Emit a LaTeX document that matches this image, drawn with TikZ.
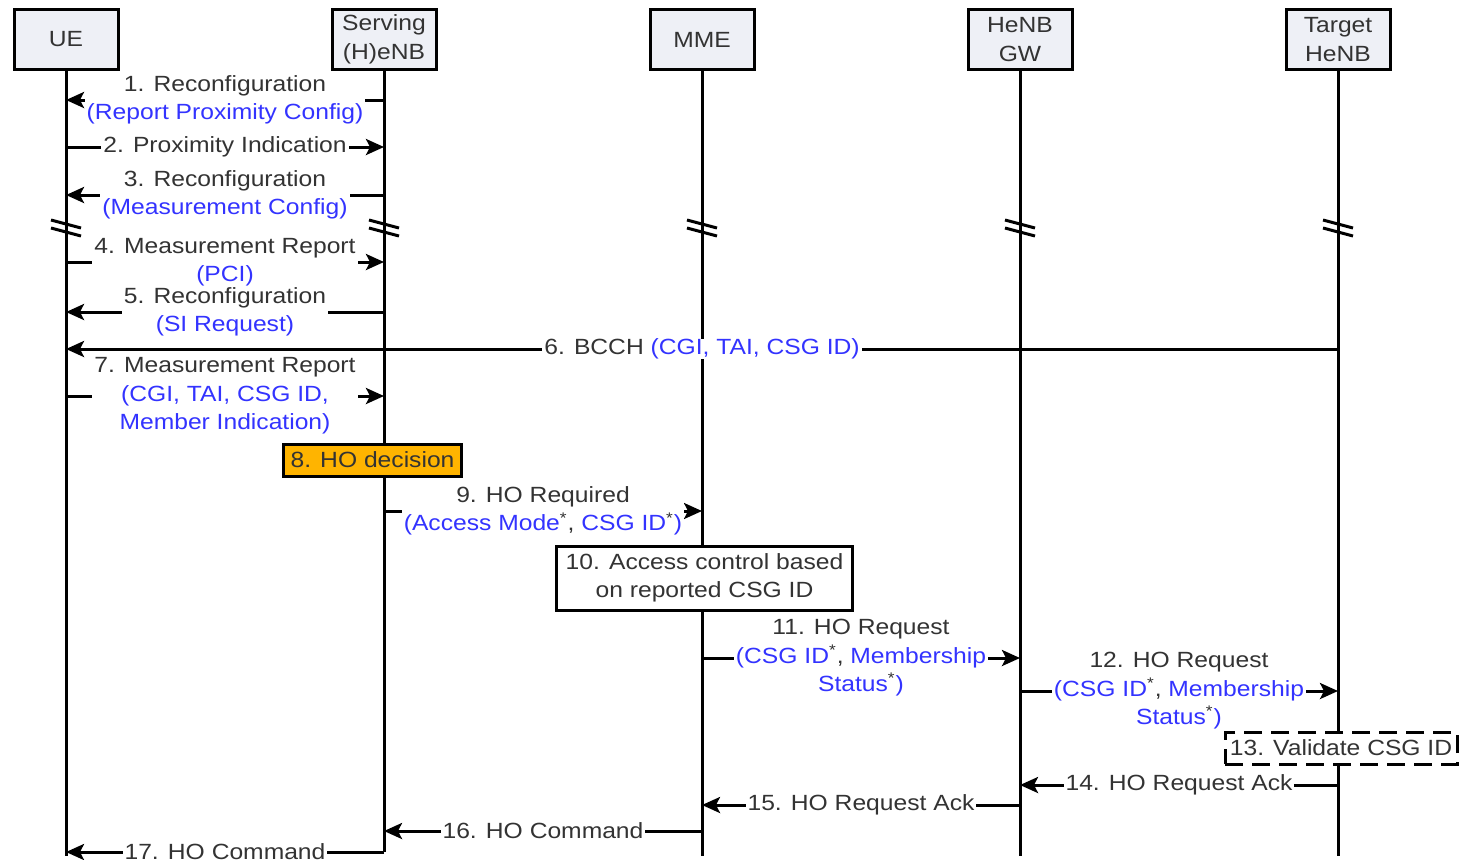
\documentclass[tikz,border=0pt]{standalone}
\usepackage{fontspec}
\setmainfont{Liberation Sans}[FakeStretch=1.12]
\usetikzlibrary{positioning}
\usetikzlibrary{arrows.meta}
\usetikzlibrary{calc}

\definecolor{msgtext}{RGB}{51,51,51}
\definecolor{msgblue}{RGB}{51,51,255}
\definecolor{headfill}{RGB}{238,240,246}
\definecolor{hoorange}{RGB}{255,180,0}

\newcommand{\bl}[1]{{\color{msgblue}#1}}
\newcommand{\csgstar}{\textsuperscript{*}}

\tikzset{
	entity/.style={rectangle, fill=headfill, draw=black, line width=1.5pt, minimum width=52pt, minimum height=30pt, align=center, text=msgtext, inner sep=1pt},
	lifeline/.style={line width=1.5pt},
	brkmark/.style={line width=1.5pt},
	msg/.style={-{Stealth[length=9pt,width=8pt,inset=2pt]}, line width=1.5pt},
	msglabel/.style={midway, fill=white, inner xsep=1pt, inner ysep=0pt, align=center, text=msgtext},
	action/.style={rectangle, draw=black, line width=1.5pt, fill=white, align=center, text=msgtext, inner sep=1pt}
}

\begin{document}
\begin{tikzpicture}[x=0.5pt, y=-0.5pt, font=\fontsize{11pt}{14.25pt}\selectfont]
		\useasboundingbox (0,0) rectangle (1462,859);

		\node[entity](ue) at (66,39.5){UE};
		\node[entity](senb) at (384,39.5){Serving\\(H)eNB};
		\node[entity](mme) at (702,39.5){MME};
		\node[entity](gw) at (1020,39.5){HeNB\\GW};
		\node[entity](tenb) at (1338,39.5){Target\\HeNB};

		% message heights
		\coordinate (m1) at (0,100);
		\coordinate (m2) at (0,147);
		\coordinate (m3) at (0,195);
		\coordinate (brk) at (0,228);
		\coordinate (m4) at (0,262);
		\coordinate (m5) at (0,312);
		\coordinate (m6) at (0,349);
		\coordinate (m7) at (0,396);
		\coordinate (m9) at (0,511);
		\coordinate (m11) at (0,658);
		\coordinate (m12) at (0,691);
		\coordinate (m14) at (0,785);
		\coordinate (m15) at (0,805);
		\coordinate (m16) at (0,831);
		\coordinate (m17) at (0,852);
		\coordinate (bot) at (0,856);

		% draw lifelines
		\draw[lifeline] (ue.south) -- (ue |- bot);
		\draw[lifeline] (senb.south) -- (senb |- m17);
		\draw[lifeline] (mme.south) -- (mme |- bot);
		\draw[lifeline] (gw.south) -- (gw |- bot);
		\draw[lifeline] (tenb.south) -- (tenb |- bot);

		% draw break marks
		\foreach \n in {ue,senb,mme,gw,tenb}{
			\draw[brkmark] ($(\n |- brk)+(-15,-8)$) -- ($(\n |- brk)+(15,0)$);
			\draw[brkmark] ($(\n |- brk)+(-15,0)$) -- ($(\n |- brk)+(15,8)$);
		}

		% draw UE - serving messages
		\draw[msg] (senb |- m1) -- node[msglabel]{1. Reconfiguration\\\bl{(Report Proximity Config)}}(ue |- m1);
		\draw[msg] (ue |- m2) -- node[msglabel]{2. Proximity Indication}(senb |- m2);
		\draw[msg] (senb |- m3) -- node[msglabel]{3. Reconfiguration\\\bl{(Measurement Config)}}(ue |- m3);
		\draw[msg] (ue |- m4) -- node[msglabel]{4. Measurement Report\\\bl{(PCI)}}(senb |- m4);
		\draw[msg] (senb |- m5) -- node[msglabel]{5. Reconfiguration\\\bl{(SI Request)}}(ue |- m5);
		\draw[msg] (tenb |- m6) -- node[msglabel]{6. BCCH \bl{(CGI, TAI, CSG ID)}}(ue |- m6);
		\draw[msg] (ue |- m7) -- node[msglabel]{7. Measurement Report\\\bl{(CGI, TAI, CSG ID,}\\\bl{Member Indication)}}(senb |- m7);

		% draw actions
		\node[action, fill=hoorange, minimum width=89pt, minimum height=16pt](hodec) at (372.5,460){8. HO decision};

		% draw handover messages
		\draw[msg] (senb |- m9) -- node[msglabel]{9. HO Required\\\bl{(Access Mode}\csgstar, \bl{CSG ID}\csgstar\bl{)}}(mme |- m9);

		\node[action, minimum width=148pt, minimum height=32pt](access) at (704.5,578){10. Access control based\\on reported CSG ID};

		\draw[msg] (mme |- m11) -- node[msglabel]{11. HO Request\\\bl{(CSG ID}\csgstar, \bl{Membership}\\\bl{Status}\csgstar\bl{)}}(gw |- m11);
		\draw[msg] (gw |- m12) -- node[msglabel]{12. HO Request\\\bl{(CSG ID}\csgstar, \bl{Membership}\\\bl{Status}\csgstar\bl{)}}(tenb |- m12);

		\node[action, dash pattern=on 9pt off 4.5pt, minimum width=116pt, minimum height=16pt](validate) at (1341,748){13. Validate CSG ID};

		\draw[msg] (tenb |- m14) -- node[msglabel]{14. HO Request Ack}(gw |- m14);
		\draw[msg] (gw |- m15) -- node[msglabel]{15. HO Request Ack}(mme |- m15);
		\draw[msg] (mme |- m16) -- node[msglabel]{16. HO Command}(senb |- m16);
		\draw[msg] (senb |- m17) -- node[msglabel]{17. HO Command}(ue |- m17);
\end{tikzpicture}
\end{document}
